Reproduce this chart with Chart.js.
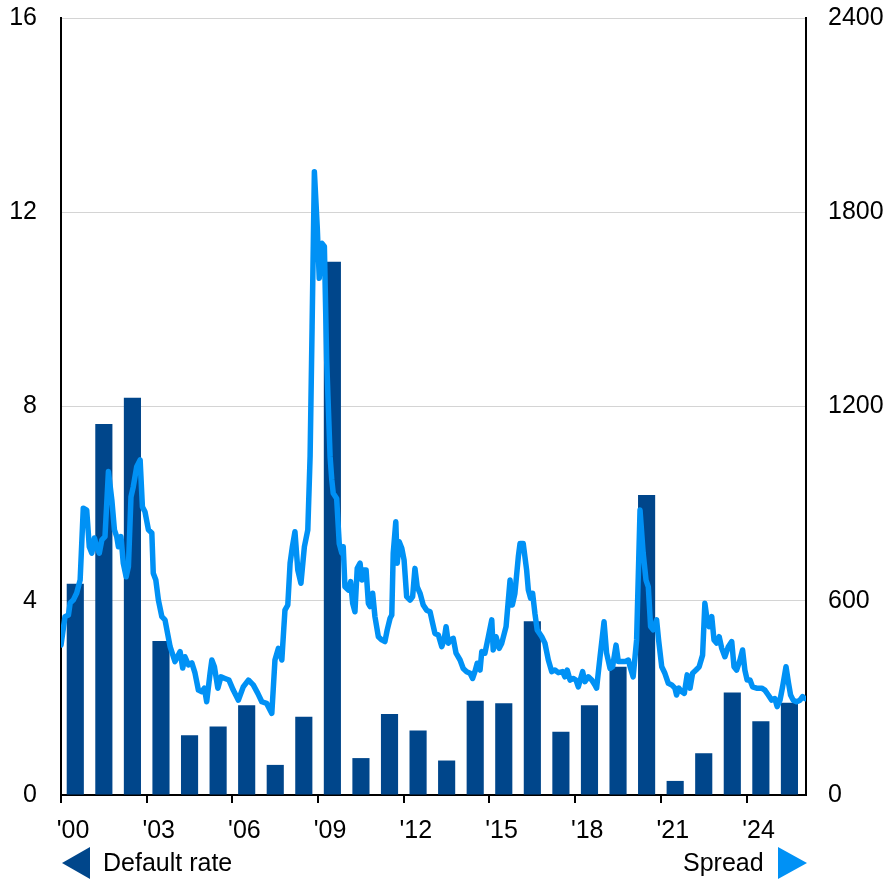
<!DOCTYPE html>
<html>
<head>
<meta charset="utf-8">
<title>Default rate and spread</title>
<script src="https://cdn.jsdelivr.net/npm/chart.js@4.4.1/dist/chart.umd.min.js"></script>
<style>
  html, body { margin: 0; padding: 0; background: #fff; }
  #wrap { position: relative; width: 890px; height: 880px; }
  .key { position: absolute; top: 846px; height: 33px; display: flex; align-items: center;
         font-family: 'Liberation Sans', Arial, sans-serif; font-size: 25px; color: #000; }
  .key.left { left: 62px; }
  .key.right { left: 683px; }
  .tri-left { width: 0; height: 0; border-top: 16.5px solid transparent; border-bottom: 16.5px solid transparent;
              border-right: 28px solid #00468b; margin-right: 13px; }
  .tri-right { width: 0; height: 0; border-top: 16.5px solid transparent; border-bottom: 16.5px solid transparent;
               border-left: 29px solid #0091f5; margin-left: 14px; }
</style>
</head>
<body>
<div id="wrap">
  <canvas id="chart" width="890" height="880"></canvas>
  <div class="key left"><span class="tri-left"></span><span>Default rate</span></div>
  <div class="key right"><span>Spread</span><span class="tri-right"></span></div>
</div>
<script>
// --- data ---
const years = [2000, 2001, 2002, 2003, 2004, 2005, 2006, 2007, 2008, 2009, 2010, 2011, 2012,
               2013, 2014, 2015, 2016, 2017, 2018, 2019, 2020, 2021, 2022, 2023, 2024, 2025];
const defaultRate = [4.35, 7.64, 8.18, 3.17, 1.23, 1.41, 1.85, 0.62, 1.61, 10.98, 0.76, 1.67, 1.33,
                     0.71, 1.94, 1.89, 3.58, 1.30, 1.85, 2.64, 6.18, 0.29, 0.86, 2.11, 1.52, 1.90];

// spread in bp, dates as decimal years
const spreadDates = [
  2000.00, 2000.14, 2000.26, 2000.32, 2000.43, 2000.55, 2000.67, 2000.78, 2000.90, 2000.99,
  2001.08, 2001.17, 2001.25, 2001.34, 2001.43, 2001.54, 2001.66, 2001.78, 2001.87, 2001.95,
  2002.01, 2002.10, 2002.18, 2002.28, 2002.36, 2002.45, 2002.53, 2002.65, 2002.77, 2002.85, 2002.94,
  2003.06, 2003.18, 2003.23, 2003.32, 2003.41, 2003.53, 2003.64, 2003.82, 2003.99,
  2004.17, 2004.26, 2004.34, 2004.46, 2004.58, 2004.69, 2004.81, 2004.93,
  2005.02, 2005.10, 2005.22, 2005.28, 2005.37, 2005.49, 2005.60, 2005.74, 2005.88,
  2006.03, 2006.21, 2006.38, 2006.56, 2006.73, 2006.89,
  2007.03, 2007.20, 2007.38, 2007.49, 2007.61, 2007.73, 2007.84, 2007.94,
  2008.02, 2008.10, 2008.19, 2008.29, 2008.40, 2008.52, 2008.64, 2008.72, 2008.79, 2008.87, 2008.97,
  2009.04, 2009.13, 2009.22, 2009.30, 2009.42, 2009.48, 2009.53, 2009.65, 2009.74, 2009.83, 2009.88, 2009.94,
  2010.06, 2010.14, 2010.21, 2010.29, 2010.37, 2010.47, 2010.53, 2010.58, 2010.68, 2010.76, 2010.82, 2010.91, 2010.99,
  2011.11, 2011.23, 2011.34, 2011.42, 2011.52, 2011.58, 2011.63, 2011.72, 2011.77, 2011.84, 2011.93,
  2012.01, 2012.10, 2012.22, 2012.31, 2012.39, 2012.47, 2012.57, 2012.68, 2012.80, 2012.92,
  2013.01, 2013.09, 2013.21, 2013.33, 2013.41, 2013.48, 2013.56, 2013.64, 2013.73, 2013.83, 2013.97,
  2014.08, 2014.20, 2014.32, 2014.41, 2014.49, 2014.57, 2014.67, 2014.73, 2014.84, 2014.96,
  2015.08, 2015.13, 2015.23, 2015.34, 2015.43, 2015.58, 2015.72, 2015.80, 2015.89,
  2016.01, 2016.07, 2016.18, 2016.30, 2016.36, 2016.44, 2016.51, 2016.59, 2016.67, 2016.83, 2016.94,
  2017.06, 2017.18, 2017.29, 2017.41, 2017.56, 2017.64, 2017.72, 2017.82, 2017.93,
  2018.03, 2018.11, 2018.26, 2018.34, 2018.46, 2018.58, 2018.69, 2018.75, 2018.87,
  2019.01, 2019.10, 2019.22, 2019.31, 2019.43, 2019.51, 2019.63, 2019.74, 2019.86, 2019.94,
  2020.03, 2020.15, 2020.27, 2020.38, 2020.48, 2020.56, 2020.64, 2020.73, 2020.85, 2020.92,
  2021.03, 2021.14, 2021.26, 2021.38, 2021.49, 2021.55, 2021.63, 2021.73, 2021.82, 2021.92,
  2022.02, 2022.11, 2022.23, 2022.34, 2022.46, 2022.54, 2022.62, 2022.69, 2022.78, 2022.86, 2022.95,
  2023.04, 2023.13, 2023.24, 2023.36, 2023.48, 2023.56, 2023.65, 2023.77, 2023.86, 2023.94,
  2024.02, 2024.12, 2024.21, 2024.35, 2024.53, 2024.64, 2024.76, 2024.88, 2024.99,
  2025.07, 2025.17, 2025.26, 2025.38, 2025.47, 2025.54, 2025.63, 2025.75, 2025.87, 2025.96, 2026.04
];
const spreadBp = [
  463, 551, 556, 593, 602, 624, 664, 886, 880, 767,
  747, 794, 767, 747, 788, 798, 999, 911, 819, 798,
  767, 798, 716, 674, 705, 921, 952, 1014, 1035, 890, 875,
  819, 809, 685, 664, 602, 551, 541, 458, 412,
  443, 392, 427, 402, 408, 377, 324, 319,
  330, 288, 377, 417, 396, 330, 365, 360, 355,
  324, 293, 334, 355, 340, 314,
  288, 283, 252, 417, 453, 417, 571, 587,
  716, 767, 813, 695, 654, 767, 819, 1045, 1446, 1925, 1755,
  1596, 1704, 1694, 1344, 1045, 973, 932, 916, 777, 747, 767, 643,
  633, 659, 592, 566, 700, 716, 664, 695, 695, 592, 582, 623, 551,
  489, 479, 474, 510, 546, 556, 747, 844, 716, 782, 762,
  726, 613, 602, 613, 700, 643, 623, 587, 571, 566,
  530, 499, 494, 458, 479, 520, 469, 479, 484, 438, 417,
  391, 381, 376, 360, 381, 407, 386, 443, 438, 489,
  541, 448, 489, 453, 469, 520, 664, 587, 623,
  736, 777, 777, 695, 633, 608, 623, 561, 510, 489, 469,
  417, 381, 386, 378, 381, 365, 386, 355, 360,
  355, 334, 381, 350, 365, 355, 340, 330, 427,
  535, 438, 391, 396, 463, 412, 412, 412, 417, 391,
  365, 479, 880, 747, 664, 643, 520, 510, 541, 479,
  396, 376, 345, 340, 330, 309, 330, 319, 314, 371,
  330, 376, 386, 396, 432, 592, 541, 520, 551, 479, 469,
  489, 453, 427, 458, 474, 396, 386, 417, 448, 386,
  355, 355, 334, 330, 330, 324, 309, 293, 298,
  273, 293, 334, 396, 345, 309, 293, 288, 293, 304, 298
];

const tickYears = [2000, 2003, 2006, 2009, 2012, 2015, 2018, 2021, 2024];
const leftTicks = [0, 4, 8, 12, 16];
const rightTicks = [0, 600, 1200, 1800, 2400];

const DARK = '#00468b';
const LIGHT = '#0091f5';
const FONT = { family: "'Liberation Sans', Arial, sans-serif", size: 25 };

const barPoints = years.map((y, i) => ({ x: y + 0.5, y: defaultRate[i] }));
const linePoints = spreadDates.map((d, i) => ({ x: d, y: spreadBp[i] }));

// keep the plot box fixed, whatever room the labels ask for
const noPad = s => { s.paddingTop = 0; s.paddingBottom = 0; s.paddingLeft = 0; s.paddingRight = 0; };

new Chart(document.getElementById('chart'), {
  type: 'bar',
  data: {
    datasets: [
      {
        type: 'line', label: 'Spread', data: linePoints, yAxisID: 'y1',
        borderColor: LIGHT, borderWidth: 5.5, pointRadius: 0, tension: 0,
        borderJoinStyle: 'round', borderCapStyle: 'round', order: 0
      },
      {
        type: 'bar', label: 'Default rate', data: barPoints, yAxisID: 'y',
        backgroundColor: DARK, barPercentage: 0.6, categoryPercentage: 1, order: 1
      }
    ]
  },
  options: {
    responsive: false,
    animation: false,
    layout: { padding: { top: 18, bottom: 35, left: 0, right: 0 } },
    plugins: { legend: { display: false }, tooltip: { enabled: false } },
    scales: {
      x: {
        type: 'linear', min: 2000, max: 2026.08, offset: false,
        grid: { offset: false, drawOnChartArea: false, drawTicks: true, tickLength: 8, color: '#000', lineWidth: 2 },
        border: { color: '#000', width: 2 },
        ticks: {
          color: '#000', font: FONT, padding: 13, labelOffset: 12, maxRotation: 0,
          callback: v => "'" + String(v).slice(2)
        },
        afterBuildTicks: s => { s.ticks = tickYears.map(v => ({ value: v })); },
        afterFit: s => { s.height = 50; noPad(s); }
      },
      y: {
        position: 'left', min: 0, max: 16,
        grid: { color: '#d4d4d4', lineWidth: 1, drawTicks: false },
        border: { color: '#000', width: 2 },
        ticks: { color: '#000', font: FONT, padding: 24, callback: v => String(v) },
        afterBuildTicks: s => { s.ticks = leftTicks.map(v => ({ value: v })); },
        afterFit: s => { s.width = 61; noPad(s); }
      },
      y1: {
        position: 'right', min: 0, max: 2400,
        grid: { display: false, drawTicks: false },
        border: { color: '#000', width: 2 },
        ticks: { color: '#000', font: FONT, padding: 22, callback: v => String(v) },
        afterBuildTicks: s => { s.ticks = rightTicks.map(v => ({ value: v })); },
        afterFit: s => { s.width = 84; noPad(s); }
      }
    }
  }
});
</script>
</body>
</html>
